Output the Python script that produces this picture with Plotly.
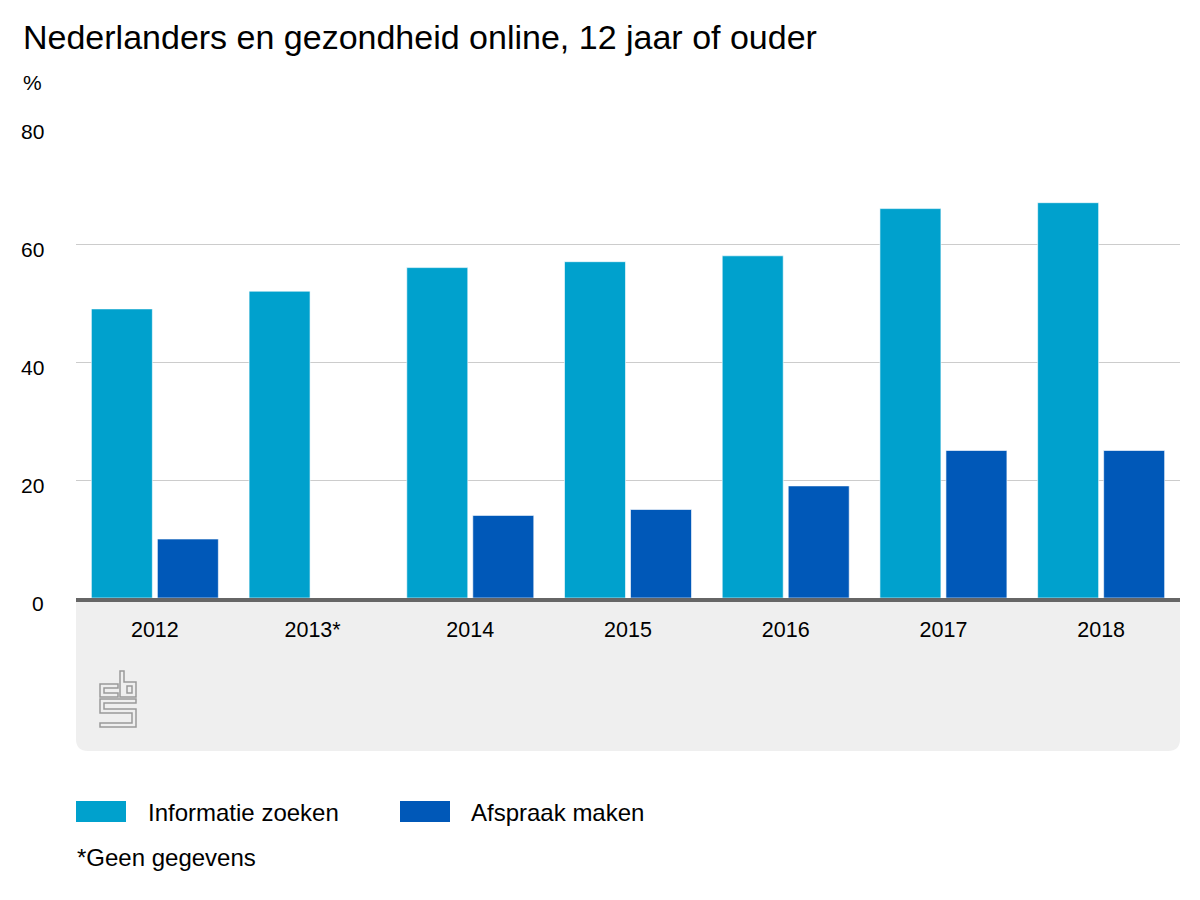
import plotly.graph_objects as go

# ---- data ----
categories = ["2012", "2013*", "2014", "2015", "2016", "2017", "2018"]
informatie_zoeken = [49, 52, 56, 57, 58, 66, 67]
afspraak_maken = [10, None, 14, 15, 19, 25, 25]
series_names = ["Informatie zoeken", "Afspraak maken"]
y_ticks = [0, 20, 40, 60, 80]

title_text = "Nederlanders en gezondheid online, 12 jaar of ouder"
unit_text = "%"
footnote_text = "*Geen gegevens"

# ---- style ----
C_INFO = "#00A1CD"
C_AFSP = "#0058B8"
FONT = "Liberation Sans, Arial, Helvetica, sans-serif"

W, H = 1200, 900
OFF = 8  # page body margin
L, R, T, B = 68, 28, 118, 310
PW, PH = W - L - R, H - T - B


def px(x):
    """screen pixel x -> paper"""
    return (x - OFF - L) / PW


def py(y):
    """screen pixel y -> paper"""
    return (H - B - (y - OFF)) / PH


fig = go.Figure()
fig.add_trace(go.Bar(x=categories, y=informatie_zoeken, name=series_names[0],
                     marker=dict(color=C_INFO, line=dict(color="rgba(255,255,255,0.6)", width=1))))
fig.add_trace(go.Bar(x=categories, y=afspraak_maken, name=series_names[1],
                     marker=dict(color=C_AFSP, line=dict(color="rgba(255,255,255,0.6)", width=1))))

shapes = []
# grey footer box with rounded bottom corners
x0, x1, y0, y1, r = 76, 1180, 598, 751, 12
path = (f"M {px(x0)},{py(y0)} L {px(x1)},{py(y0)} L {px(x1)},{py(y1 - r)} "
        f"Q {px(x1)},{py(y1)} {px(x1 - r)},{py(y1)} L {px(x0 + r)},{py(y1)} "
        f"Q {px(x0)},{py(y1)} {px(x0)},{py(y1 - r)} Z")
shapes.append(dict(type="path", xref="paper", yref="paper", path=path,
                   fillcolor="#EFEFEF", line=dict(width=0), layer="below"))


def poly(pts):
    s = "M " + " L ".join(f"{px(a)},{py(b)}" for a, b in pts) + " Z"
    return dict(type="path", xref="paper", yref="paper", path=s,
                line=dict(color="#9A9A9A", width=1.5), fillcolor="rgba(0,0,0,0)")


# CBS logo (outline)
shapes.append(poly([(118, 684), (100, 684), (100, 697), (118, 697), (118, 693),
                    (104, 693), (104, 688), (118, 688)]))
shapes.append(poly([(120, 671), (120, 697), (136, 697), (136, 682), (124, 682), (124, 671)]))
shapes.append(poly([(127, 686), (132, 686), (132, 693), (127, 693)]))
shapes.append(poly([(136, 699), (100, 699), (100, 713), (132, 713), (132, 723), (100, 723),
                    (100, 727), (136, 727), (136, 709), (104, 709), (104, 703), (136, 703)]))

# legend swatches
shapes.append(dict(type="rect", xref="paper", yref="paper", x0=px(76), x1=px(126),
                   y0=py(822), y1=py(801), fillcolor=C_INFO, line=dict(width=0)))
shapes.append(dict(type="rect", xref="paper", yref="paper", x0=px(400), x1=px(450),
                   y0=py(822), y1=py(801), fillcolor=C_AFSP, line=dict(width=0)))

annotations = [
    dict(text=title_text, x=px(21), y=py(37), xref="paper", yref="paper",
         xanchor="left", yanchor="middle", showarrow=False,
         font=dict(size=34, color="#000", family=FONT)),
    dict(text=unit_text, x=px(21), y=py(82), xref="paper", yref="paper",
         xanchor="left", yanchor="middle", showarrow=False,
         font=dict(size=21, color="#000", family=FONT)),
    dict(text=series_names[0], x=px(146), y=py(812), xref="paper", yref="paper",
         xanchor="left", yanchor="middle", showarrow=False,
         font=dict(size=24, color="#000", family=FONT)),
    dict(text=series_names[1], x=px(469), y=py(812), xref="paper", yref="paper",
         xanchor="left", yanchor="middle", showarrow=False,
         font=dict(size=24, color="#000", family=FONT)),
    dict(text=footnote_text, x=px(75), y=py(858), xref="paper", yref="paper",
         xanchor="left", yanchor="middle", showarrow=False,
         font=dict(size=24, color="#000", family=FONT)),
]
# y tick labels, slightly below their gridlines as in the reference
for v in y_ticks:
    annotations.append(dict(text=str(v), x=px(46), y=v, xref="paper", yref="y",
                            xanchor="right", yanchor="middle", yshift=-5, showarrow=False,
                            font=dict(size=21, color="#000", family=FONT)))

fig.update_layout(
    width=W, height=H,
    margin=dict(l=L, r=R, t=T, b=B, pad=0),
    paper_bgcolor="white", plot_bgcolor="white",
    barmode="group", bargap=0.163, bargroupgap=0.076,
    showlegend=False,
    font=dict(family=FONT, size=21, color="#000"),
    shapes=shapes, annotations=annotations,
    xaxis=dict(type="category", showgrid=False, showline=True, linecolor="#666666",
               linewidth=4, ticks="", ticklabelstandoff=9,
               tickfont=dict(size=21.5, color="#000", family=FONT), fixedrange=True),
    yaxis=dict(range=[0, 80], tickvals=y_ticks, showgrid=True, gridcolor="#CCCCCC",
               gridwidth=1, zeroline=False, showline=False, ticks="",
               showticklabels=False, fixedrange=True),
)

fig.write_html("out.html")
